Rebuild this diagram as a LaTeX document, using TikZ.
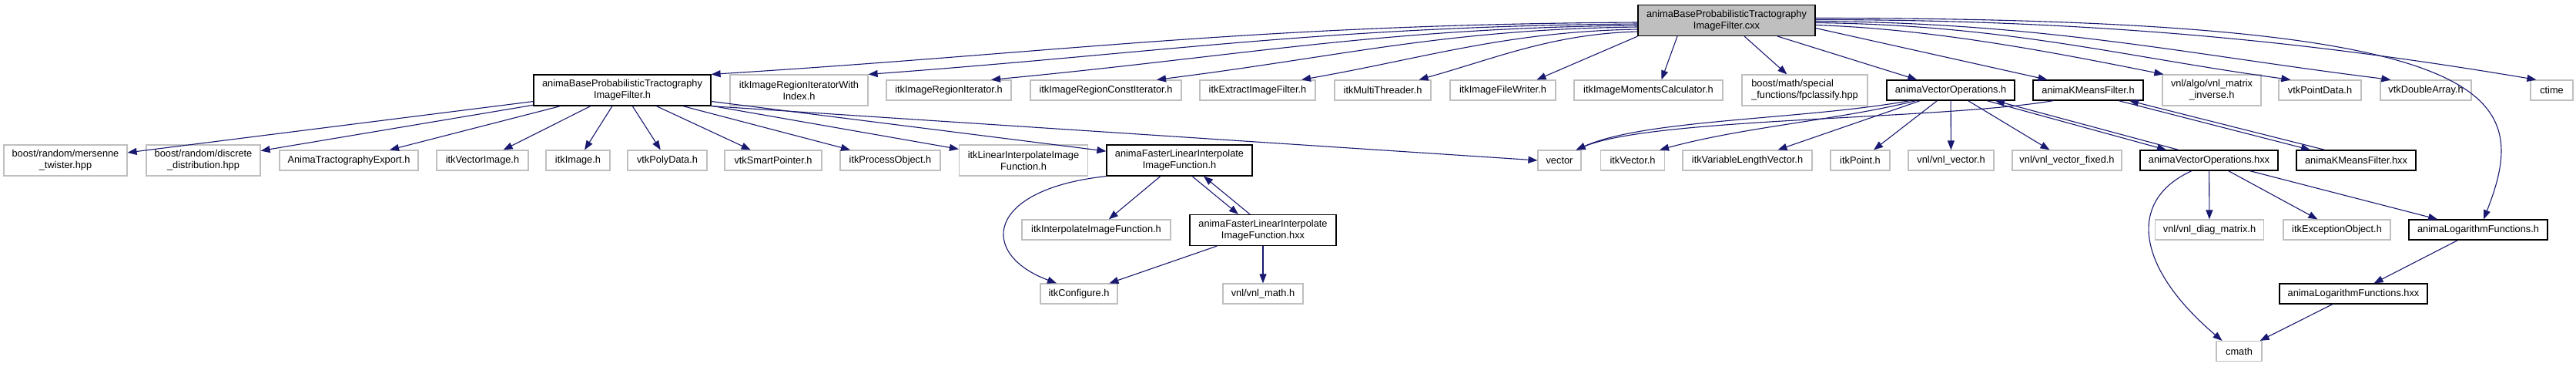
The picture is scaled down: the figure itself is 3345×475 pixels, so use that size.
\documentclass[tikz,border=0pt]{standalone}
\usepackage{fontspec}
\setmainfont{Liberation Sans}
\usetikzlibrary{arrows.meta}
\definecolor{navyline}{HTML}{191970}
\definecolor{greyframe}{HTML}{BFBFBF}
\tikzstyle{incarrow} = [navyline, line width=1.1pt, -{Triangle[length=12pt,width=9pt]}]
\tikzstyle{ext} = [rectangle, draw=greyframe, line width=1.2pt, inner sep=0pt, minimum height=26pt, font=\fontsize{12.8}{15}\selectfont]
\tikzstyle{doc} = [ext, draw=black]
\tikzstyle{two} = [minimum height=40pt, align=center]

\begin{document}
\begin{tikzpicture}[x=1pt, y=-1pt]
  \fill[white] (0,0) rectangle (3345,475);
  \useasboundingbox (0,0) rectangle (3345,475);

  % root file
  \node[doc, two, fill=greyframe, minimum width=230pt] (cxx) at (2242,26.5) {animaBaseProbabilisticTractography\\ImageFilter.cxx};

  % first level
  \node[doc, two, minimum width=230pt] (baseh) at (808,117) {animaBaseProbabilisticTractography\\ImageFilter.h};
  \node[ext, two, minimum width=179pt] (iterwi) at (1037.5,117) {itkImageRegionIteratorWith\\Index.h};
  \node[ext, minimum width=162pt] (iter) at (1232,117) {itkImageRegionIterator.h};
  \node[ext, minimum width=196pt] (constiter) at (1436,117) {itkImageRegionConstIterator.h};
  \node[ext, minimum width=150pt] (extract) at (1633,117) {itkExtractImageFilter.h};
  \node[ext, minimum width=125pt] (multithr) at (1795.5,117) {itkMultiThreader.h};
  \node[ext, minimum width=137pt] (writer) at (1951.5,117) {itkImageFileWriter.h};
  \node[ext, minimum width=193pt] (moments) at (2140.5,117) {itkImageMomentsCalculator.h};
  \node[ext, two, align=left, minimum width=163pt] (fpclass) at (2343.5,117) {boost/math/special\\\_functions/fpclassify.hpp};
  \node[doc, minimum width=166pt] (vecopsh) at (2533,117) {animaVectorOperations.h};
  \node[doc, minimum width=143pt] (kmeansh) at (2711.5,117) {animaKMeansFilter.h};
  \node[ext, two, minimum width=128pt] (matinv) at (2872,117) {vnl/algo/vnl\_matrix\\\_inverse.h};
  \node[ext, minimum width=107pt] (pointdata) at (3012.5,117) {vtkPointData.h};
  \node[ext, minimum width=118pt] (doublearr) at (3150,117) {vtkDoubleArray.h};
  \node[ext, minimum width=55pt] (ctime) at (3313.5,117) {ctime};

  % second level
  \node[ext, two, minimum width=160pt] (mersenne) at (85,208) {boost/random/mersenne\\\_twister.hpp};
  \node[ext, two, minimum width=148pt] (discrete) at (264,208) {boost/random/discrete\\\_distribution.hpp};
  \node[ext, minimum width=180pt] (tractexport) at (453,208) {AnimaTractographyExport.h};
  \node[ext, minimum width=119pt] (vecimage) at (626.5,208) {itkVectorImage.h};
  \node[ext, minimum width=83pt] (image) at (750.5,208) {itkImage.h};
  \node[ext, minimum width=103pt] (polydata) at (866.5,208) {vtkPolyData.h};
  \node[ext, minimum width=126pt] (smartptr) at (1004,208) {vtkSmartPointer.h};
  \node[ext, minimum width=130pt] (procobj) at (1156,208) {itkProcessObject.h};
  \node[ext, two, minimum width=167pt] (linterp) at (1329,208) {itkLinearInterpolateImage\\Function.h};
  \node[doc, two, minimum width=189pt] (fasterh) at (1531.5,208) {animaFasterLinearInterpolate\\ImageFunction.h};
  \node[ext, minimum width=56pt] (vector) at (2025,208) {vector};
  \node[ext, minimum width=83pt] (itkvector) at (2120,208) {itkVector.h};
  \node[ext, minimum width=168pt] (varlen) at (2269,208) {itkVariableLengthVector.h};
  \node[ext, minimum width=77pt] (point) at (2415.5,208) {itkPoint.h};
  \node[ext, minimum width=111pt] (vnlvec) at (2533.5,208) {vnl/vnl\_vector.h};
  \node[ext, minimum width=142pt] (vnlvecfix) at (2684,208) {vnl/vnl\_vector\_fixed.h};
  \node[doc, minimum width=179pt] (vecopshxx) at (2868.5,208) {animaVectorOperations.hxx};
  \node[doc, minimum width=155pt] (kmeanshxx) at (3059.5,208) {animaKMeansFilter.hxx};

  % third level
  \node[ext, minimum width=193pt] (interp) at (1423.5,298) {itkInterpolateImageFunction.h};
  \node[doc, two, minimum width=190pt] (fasterhxx) at (1640,298.5) {animaFasterLinearInterpolate\\ImageFunction.hxx};
  \node[ext, minimum width=141pt] (diag) at (2869,298) {vnl/vnl\_diag\_matrix.h};
  \node[ext, minimum width=139pt] (except) at (3034.5,298) {itkExceptionObject.h};
  \node[doc, minimum width=180pt] (logh) at (3218,298) {animaLogarithmFunctions.h};

  % fourth level
  \node[ext, minimum width=100pt] (config) at (1401,381) {itkConfigure.h};
  \node[ext, minimum width=104pt] (vnlmath) at (1640,381) {vnl/vnl\_math.h};
  \node[doc, minimum width=192pt] (loghxx) at (3056,381) {animaLogarithmFunctions.hxx};
  \node[ext, minimum width=59pt] (cmath) at (2907.5,455.5) {cmath};

  % includes of the .cxx
  \draw[incarrow] ([yshift=-2.5pt]cxx.west) .. controls +(-500,3) and +(450,-28) .. (baseh.north east);
  \draw[incarrow] ([yshift=-4.5pt]cxx.west) .. controls +(-400,3) and +(380,-28) .. (iterwi.north east);
  \draw[incarrow] ([yshift=-6.5pt]cxx.west) .. controls +(-330,3) and +(320,-30) .. ([xshift=55pt]iter.north);
  \draw[incarrow] ([yshift=-8.5pt]cxx.west) .. controls +(-250,3) and +(240,-30) .. ([xshift=66pt]constiter.north);
  \draw[incarrow] ([yshift=-11.5pt]cxx.west) .. controls +(-170,3) and +(160,-28) .. ([xshift=57pt]extract.north);
  \draw[incarrow] ([yshift=-14.5pt]cxx.west) .. controls +(-110,3) and +(100,-28) .. ([xshift=47pt]multithr.north);
  \draw[incarrow] (cxx.south west) -- ([xshift=44pt]writer.north);
  \draw[incarrow] ([xshift=-64pt]cxx.south) -- ([xshift=17pt]moments.north);
  \draw[incarrow] (cxx) -- (fpclass);
  \draw[incarrow] (cxx) -- (vecopsh);
  \draw[incarrow] ([yshift=-10pt]cxx.east) -- ([xshift=-53pt]kmeansh.north);
  \draw[incarrow] ([yshift=-6pt]cxx.east) .. controls +(150,5) and +(-150,-30) .. ([xshift=2pt]matinv.north west);
  \draw[incarrow] ([yshift=-3pt]cxx.east) .. controls +(250,3) and +(-220,-30) .. ([xshift=16pt]pointdata.north west);
  \draw[incarrow] ([yshift=-1pt]cxx.east) .. controls +(300,2) and +(-260,-32) .. ([xshift=14pt]doublearr.north west);
  \draw[incarrow] ([yshift=1pt]cxx.east) .. controls +(400,0) and +(-250,-42) .. ([xshift=8pt]ctime.north west);
  \draw[incarrow] ([yshift=3pt]cxx.east) .. controls +(893,0) and +(65,-165) .. ([xshift=7pt]logh.north);

  % includes of the filter header
  \draw[incarrow] (baseh) -- (mersenne);
  \draw[incarrow] (baseh) -- (discrete);
  \draw[incarrow] (baseh) -- (tractexport);
  \draw[incarrow] (baseh) -- (vecimage);
  \draw[incarrow] (baseh) -- (image);
  \draw[incarrow] (baseh) -- (polydata);
  \draw[incarrow] (baseh) -- (smartptr);
  \draw[incarrow] (baseh) -- (procobj);
  \draw[incarrow] (baseh) -- (linterp);
  \draw[incarrow] (baseh) -- (fasterh);
  \draw[incarrow] (baseh.south east) -- (vector.west);

  % vector operations and k-means
  \draw[incarrow] ([xshift=-53pt]vecopsh.south) .. controls +(-140,25) and +(90,-40) .. ([xshift=-7pt]vector.north east);
  \draw[incarrow] ([xshift=-45pt]vecopsh.south) .. controls +(-100,25) and +(110,-30) .. ([xshift=-7pt]itkvector.north east);
  \draw[incarrow] (vecopsh) -- (varlen);
  \draw[incarrow] (vecopsh) -- (point);
  \draw[incarrow] (vecopsh) -- (vnlvec);
  \draw[incarrow] (vecopsh) -- (vnlvecfix);
  \draw[incarrow] ([xshift=47pt]vecopsh.south) -- ([xshift=-55.5pt]vecopshxx.north);
  \draw[incarrow] ([xshift=-39.5pt]vecopshxx.north) -- ([xshift=58pt]vecopsh.south);
  \draw[incarrow] ([xshift=-45pt]kmeansh.south) .. controls +(-150,25) and +(100,-42) .. ([xshift=-7pt]vector.north east);
  \draw[incarrow] ([xshift=39.5pt]kmeansh.south) -- ([xshift=-59.5pt]kmeanshxx.north);
  \draw[incarrow] ([xshift=-40.5pt]kmeanshxx.north) -- ([xshift=53.5pt]kmeansh.south);

  % interpolator
  \draw[incarrow] (fasterh.south west) .. controls +(-157,17) and +(-102,-38) .. ([xshift=-29pt]config.north);
  \draw[incarrow] (fasterh) -- (interp);
  \draw[incarrow] ([xshift=16.5pt]fasterh.south) -- ([xshift=-32pt]fasterhxx.north);
  \draw[incarrow] ([xshift=-17pt]fasterhxx.north) -- ([xshift=31.5pt]fasterh.south);
  \draw[incarrow] (fasterhxx) -- (config);
  \draw[incarrow] (fasterhxx) -- (vnlmath);

  % vector operations implementation
  \draw[incarrow] ([xshift=-22.5pt]vecopshxx.south) .. controls +(-86,39) and +(-110,-93) .. ([xshift=-22pt]cmath.north);
  \draw[incarrow] (vecopshxx) -- (diag);
  \draw[incarrow] (vecopshxx) -- (except);
  \draw[incarrow] (vecopshxx) -- (logh);
  \draw[incarrow] (logh) -- (loghxx);
  \draw[incarrow] (loghxx) -- (cmath);
\end{tikzpicture}
\end{document}
